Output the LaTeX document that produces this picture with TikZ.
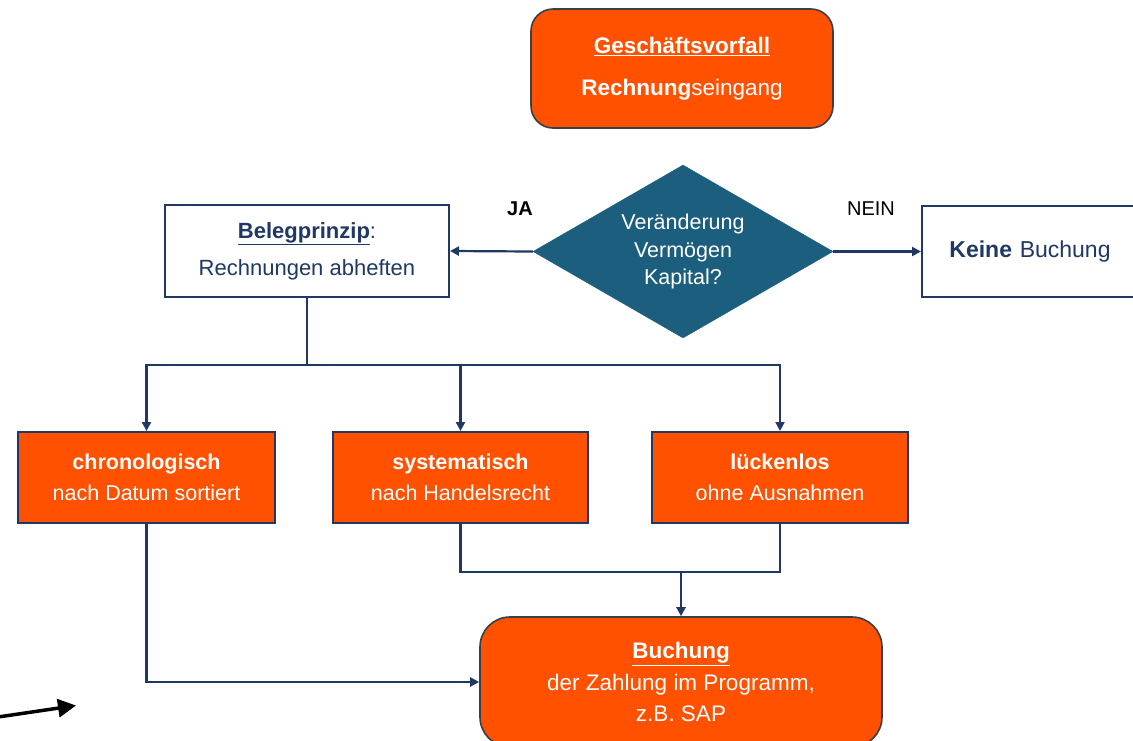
\documentclass[tikz,border=0pt]{standalone}
\usepackage{fontspec}
\setmainfont{Liberation Sans}
\usetikzlibrary{shapes.geometric,arrows.meta}
\definecolor{orng}{HTML}{FF5100}
\definecolor{navy}{HTML}{1F3864}
\definecolor{dteal}{HTML}{1C5E7D}
\definecolor{bordergray}{HTML}{3A3F47}
\begin{document}
\begin{tikzpicture}[x=1pt,y=-1pt,
  conn/.style={draw=navy, line width=2.2pt},
  arr/.style={conn, -{Triangle[length=9pt,width=9pt]}},
  roundbox/.style={draw=bordergray, line width=1.6pt, fill=orng, rounded corners=22pt, text=white, align=center, inner sep=0pt},
  orbox/.style={draw=navy, line width=2pt, fill=orng, text=white, align=center, inner sep=0pt, minimum height=91pt, font=\fontsize{21.5}{31}\selectfont},
  whbox/.style={draw=navy, line width=2pt, fill=white, text=navy, align=center, inner sep=0pt},
  decision/.style={diamond, aspect=1.73, draw=dteal, fill=dteal, text=white, align=center, inner sep=0pt, minimum width=300pt, minimum height=173pt, font=\fontsize{21.5}{27.5}\selectfont},
  lbl/.style={text=black, inner sep=0pt, font=\fontsize{20}{24}\selectfont}
]
\useasboundingbox (0,0) rectangle (1133,740);
\fill[white] (0,0) rectangle (1133,740);

\node[roundbox, minimum width=302pt, minimum height=119pt, font=\fontsize{22.5}{42}\selectfont] (gv) at (682,68.5)
  {\underline{\textbf{Geschäftsvorfall}}\\\textbf{Rechnung}seingang};

\node[decision] (dia) at (683,251.5) {Veränderung\\Vermögen\\Kapital?};

\node[whbox, minimum width=284pt, minimum height=92pt, font=\fontsize{22}{37}\selectfont] (beleg) at (307,251)
  {\underline{\textbf{Belegprinzip}}:\\Rechnungen abheften};

\node[whbox, minimum width=218pt, minimum height=91pt, font=\fontsize{23}{26}\selectfont, text width=218pt] (keine) at (1031,251.5)
  {\hspace*{-2pt}\textbf{Keine} Buchung};

\node[lbl, font=\fontsize{20}{24}\selectfont\bfseries] (ja) at (520,209) {JA};
\node[lbl] (nein) at (871,209) {NEIN};

\node[orbox, minimum width=257pt] (b1) at (146.5,477.5) {\textbf{chronologisch}\\nach Datum sortiert};
\node[orbox, minimum width=255pt] (b2) at (460.5,477.5) {\textbf{systematisch}\\nach Handelsrecht};
\node[orbox, minimum width=256pt] (b3) at (780,477.5) {\textbf{lückenlos}\\ohne Ausnahmen};

\node[roundbox, rounded corners=30pt, minimum width=402pt, minimum height=130pt, font=\fontsize{22.5}{31.5}\selectfont] (buch) at (681,682)
  {\underline{\textbf{Buchung}}\\der Zahlung im Programm,\\z.B. SAP};

% connectors
\draw[arr] (dia.west) -- (beleg.east);
\draw[arr] (dia.east) -- (keine.west);

\coordinate (split) at (307,365);
\draw[conn] (beleg.south) -- (split);
\draw[arr] (split) -| (b1.north);
\draw[arr] (split) -| (b3.north);
\draw[arr] (b2.north |- split) -- (b2.north);

\coordinate (merge) at (681,572);
\draw[conn] (b2.south) |- (merge);
\draw[conn] (b3.south) |- (merge);
\draw[arr] (merge) -- (buch.north);
\draw[arr] (b1.south) |- (buch.west);

% stray arrow
\coordinate (sa) at (-2,717);
\coordinate (sb) at (76,705.5);
\draw[line width=3.5pt, -{Triangle[length=18pt,width=18pt]}] (sa) -- (sb);
\end{tikzpicture}
\end{document}
